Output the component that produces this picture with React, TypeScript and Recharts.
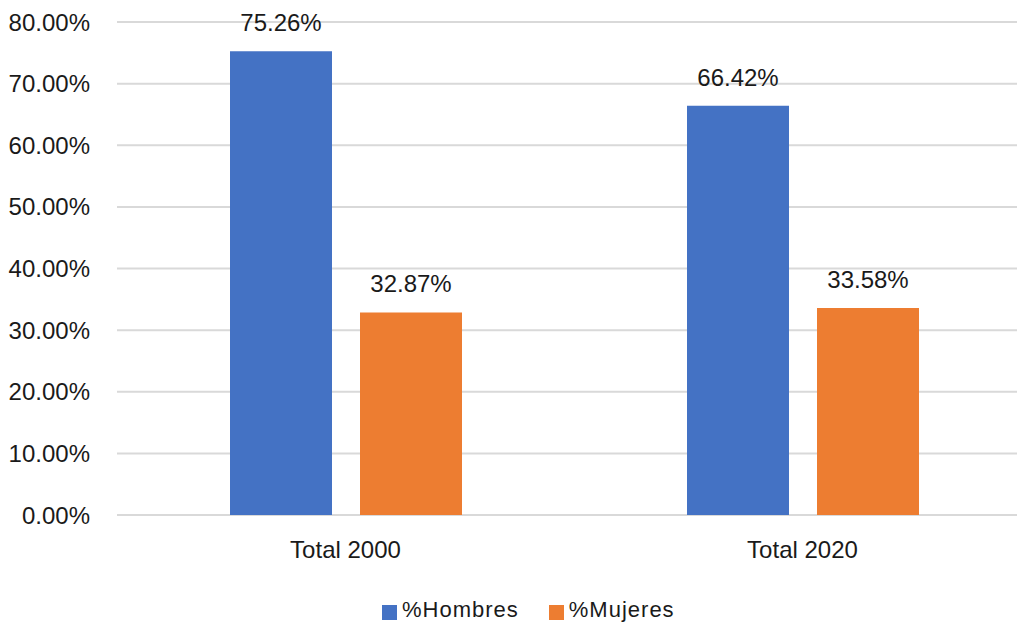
import React from 'react';
import { BarChart, Bar, XAxis, YAxis, CartesianGrid, Legend, LabelList } from 'recharts';

const categories = ['Total 2000', 'Total 2020'];
const hombres = [75.26, 66.42];
const mujeres = [32.87, 33.58];
const yTicks = [0, 10, 20, 30, 40, 50, 60, 70, 80];
const seriesNames = ['%Hombres', '%Mujeres'];
const colors = ['#4472C4', '#ED7D31'];

const data = categories.map((c, i) => ({ name: c, hombres: hombres[i], mujeres: mujeres[i] }));

const FONT = '"Liberation Sans", Arial, sans-serif';

const fmt = (v: number) => `${Number(v).toFixed(2)}%`;

const LegendContent = () => (
  <div style={{ display: 'flex', alignItems: 'center', height: 22, paddingLeft: 382, fontFamily: FONT, fontSize: 22, lineHeight: '22px', color: '#1a1a1a', letterSpacing: 1 }}>
    {seriesNames.map((n, i) => (
      <div key={n} style={{ display: 'flex', alignItems: 'center', marginRight: i === 0 ? 30 : 0 }}>
        <div style={{ width: 15, height: 15, background: colors[i], marginRight: 5, marginTop: 4 }} />
        <span>{n}</span>
      </div>
    ))}
  </div>
);

export default function App() {
  return (
    <div style={{ position: 'absolute', left: 0, top: 0, width: 1017, height: 622, overflow: 'hidden', background: '#fff' }}>
      <BarChart
        width={1040}
        height={622}
        data={data}
        margin={{ top: 22, right: 9, left: 0, bottom: 0 }}
        barSize={102}
        barGap={28}
      >
        <CartesianGrid vertical={false} stroke="#d9d9d9" strokeWidth={2} />
        <XAxis
          dataKey="name"
          axisLine={false}
          tickLine={false}
          height={85}
          tickMargin={20}
          tick={{ fontFamily: FONT, fontSize: 24, fill: '#1a1a1a' }}
        />
        <YAxis
          width={117}
          domain={[0, 80]}
          ticks={yTicks}
          tickFormatter={fmt}
          axisLine={false}
          tickLine={false}
          tickMargin={21}
          tick={{ fontFamily: FONT, fontSize: 24, fill: '#1a1a1a' }}
          interval={0}
        />
        <Legend verticalAlign="bottom" content={<LegendContent />} wrapperStyle={{ left: 0, bottom: 1, width: 1017 }} />
        <Bar dataKey="hombres" name={seriesNames[0]} fill={colors[0]} isAnimationActive={false}>
          <LabelList dataKey="hombres" position="top" offset={20} formatter={fmt} style={{ fontFamily: FONT, fontSize: 24, fill: '#1a1a1a' }} />
        </Bar>
        <Bar dataKey="mujeres" name={seriesNames[1]} fill={colors[1]} isAnimationActive={false}>
          <LabelList dataKey="mujeres" position="top" offset={20} formatter={fmt} style={{ fontFamily: FONT, fontSize: 24, fill: '#1a1a1a' }} />
        </Bar>
      </BarChart>
    </div>
  );
}
